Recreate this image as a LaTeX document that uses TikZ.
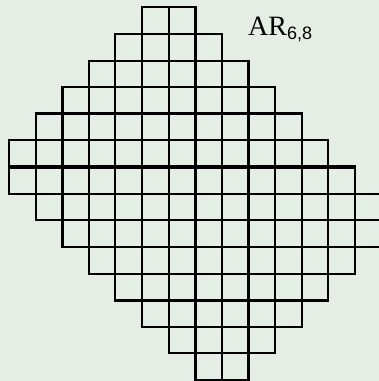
\documentclass[tikz,border=0pt]{standalone}
\usepackage{fontspec}
\setmainfont{Liberation Serif}
\newfontfamily\labsans{Liberation Sans}
\definecolor{bg}{RGB}{228,238,228}
\begin{document}
\begin{tikzpicture}[x=1pt,y=-1pt,
  cellline/.style={line width=2pt},
  thickline/.style={line width=3.2pt, line cap=butt, shorten <=-1pt, shorten >=-1pt}]
\fill[bg] (0,0) rectangle (379,381);
\useasboundingbox (0,0) rectangle (379,381);
\def\s{26.62}
\def\xo{9}
\def\yo{7.3}
\foreach \r/\a/\b in {0/5/6,1/4/7,2/3/8,3/2/9,4/1/10,5/0/11,6/0/12,7/1/13,8/2/13,9/3/12,10/4/11,11/5/10,12/6/9,13/7/8} {
  \foreach \c in {\a,...,\b} {
    \draw[cellline] ({\xo+\c*\s},{\yo+\r*\s}) rectangle ++(\s,\s);
  }
}
% thick vertical lines
\draw[thickline] ({\xo+2*\s},{\yo+3*\s}) -- ({\xo+2*\s},{\yo+9*\s});
\draw[thickline] ({\xo+7*\s},{\yo+0*\s}) -- ({\xo+7*\s},{\yo+14*\s});
\draw[thickline] ({\xo+9*\s},{\yo+2*\s}) -- ({\xo+9*\s},{\yo+14*\s});
% thick horizontal lines
\draw[thickline] ({\xo+1*\s},{\yo+4*\s}) -- ({\xo+11*\s},{\yo+4*\s});
\draw[thickline] ({\xo+0*\s},{\yo+6*\s}) -- ({\xo+13*\s},{\yo+6*\s});
\draw[thickline] ({\xo+4*\s},{\yo+11*\s}) -- ({\xo+12*\s},{\yo+11*\s});
\node[anchor=base west, inner sep=0pt] (lab) at (248,35)
  {\fontsize{28}{30}\selectfont AR\raisebox{-4pt}{\labsans\fontsize{18}{20}\selectfont 6,8}};
\end{tikzpicture}
\end{document}
